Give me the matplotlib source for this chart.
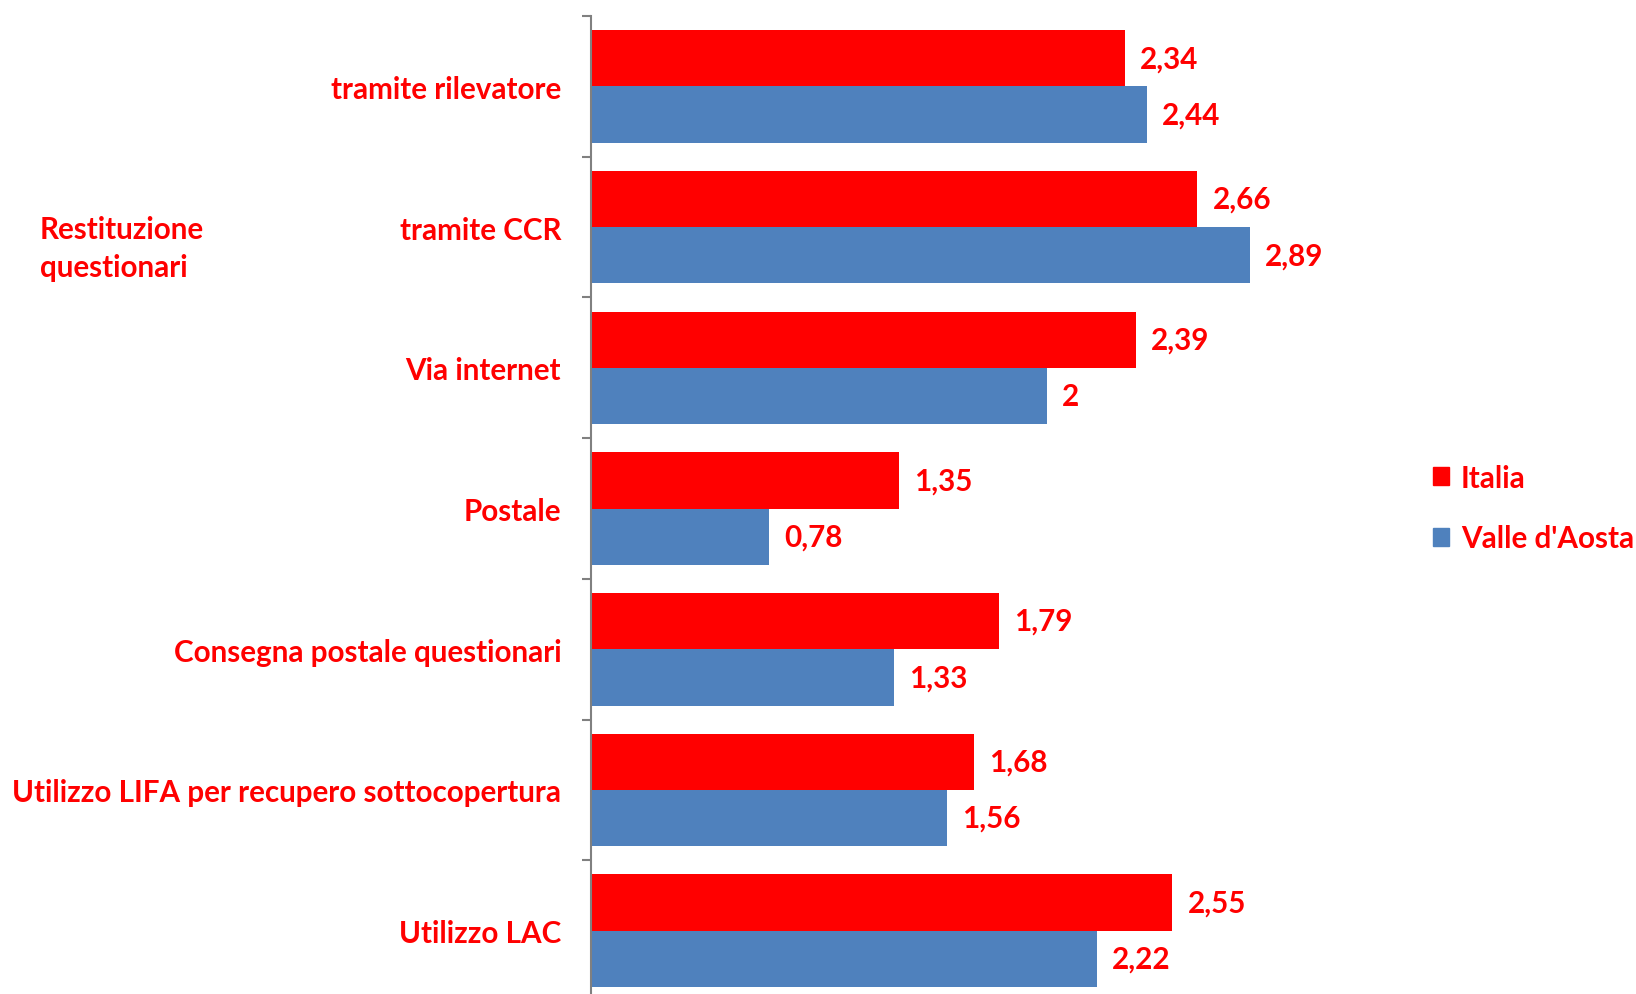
import matplotlib
matplotlib.use("Agg")
import matplotlib.pyplot as plt
from matplotlib.patches import Patch
import numpy as np

categories = ["tramite rilevatore", "tramite CCR", "Via internet", "Postale",
              "Consegna postale questionari", "Utilizzo LIFA per recupero sottocopertura",
              "Utilizzo LAC"]
italia = [2.34, 2.66, 2.39, 1.35, 1.79, 1.68, 2.55]
valle = [2.44, 2.89, 2.00, 0.78, 1.33, 1.56, 2.22]
series_names = ["Italia", "Valle d'Aosta"]
group_label = "Restituzione\nquestionari"

RED = "#ff0000"
BLUE = "#4f81bd"
plt.rcParams['font.family'] = ['Lato', 'DejaVu Sans']
plt.rcParams['font.weight'] = 'bold'
FS = 21.3

W, H = 1636, 995
fig = plt.figure(figsize=(W/100, H/100), dpi=100)
x0 = 591
ppu = 228
left = x0 / W
xmax = 3.4
right = (x0 + xmax * ppu) / W
top = 1 - 17 / H
bottom = 1 - 1002 / H
ax = fig.add_axes([left, bottom, right - left, top - bottom])

n = len(categories)
y = np.arange(n)
bh = 0.4
ax.barh(y - bh/2, italia, height=bh, color=RED, label=series_names[0])
ax.barh(y + bh/2, valle, height=bh, color=BLUE, label=series_names[1])

def fmt(v):
    return f"{v:g}".replace(".", ",")

for yi, v in zip(y - bh/2, italia):
    ax.annotate(fmt(v), (v, yi), xytext=(15, 0), textcoords="offset pixels",
                va="center", ha="left", color=RED, fontsize=FS, fontweight="bold")
for yi, v in zip(y + bh/2, valle):
    ax.annotate(fmt(v), (v, yi), xytext=(15, 0), textcoords="offset pixels",
                va="center", ha="left", color=RED, fontsize=FS, fontweight="bold")

ax.set_ylim(n - 0.5, -0.5)
ax.set_xlim(0, xmax)
ax.set_yticks(y)
ax.set_yticklabels(categories, color=RED, fontsize=FS, fontweight="bold")
ax.tick_params(axis="y", which="major", length=0, pad=21.5)
ax.set_yticks(np.arange(n + 1) - 0.5, minor=True)
ax.tick_params(axis="y", which="minor", length=6.5, width=1.5, color="#808080", direction="out")
ax.set_xticks([])
for s in ["top", "right", "bottom"]:
    ax.spines[s].set_visible(False)
ax.spines["left"].set_color("#808080")
ax.spines["left"].set_linewidth(1.5)

fig.text(40 / W, 1 - 249 / H, group_label, color=RED, fontsize=FS, fontweight="bold",
         ha="left", va="center", linespacing=1.42)

handles = [Patch(color=RED), Patch(color=BLUE)]
leg = fig.legend(handles, series_names, loc="center left",
                 bbox_to_anchor=(1418 / W, 1 - 509 / H), frameon=False,
                 handlelength=0.55, handleheight=0.55, handletextpad=0.4,
                 labelspacing=1.1, prop={"size": FS, "weight": "bold"},
                 labelcolor=RED, borderpad=0)

fig.savefig("out.png", dpi=100)
